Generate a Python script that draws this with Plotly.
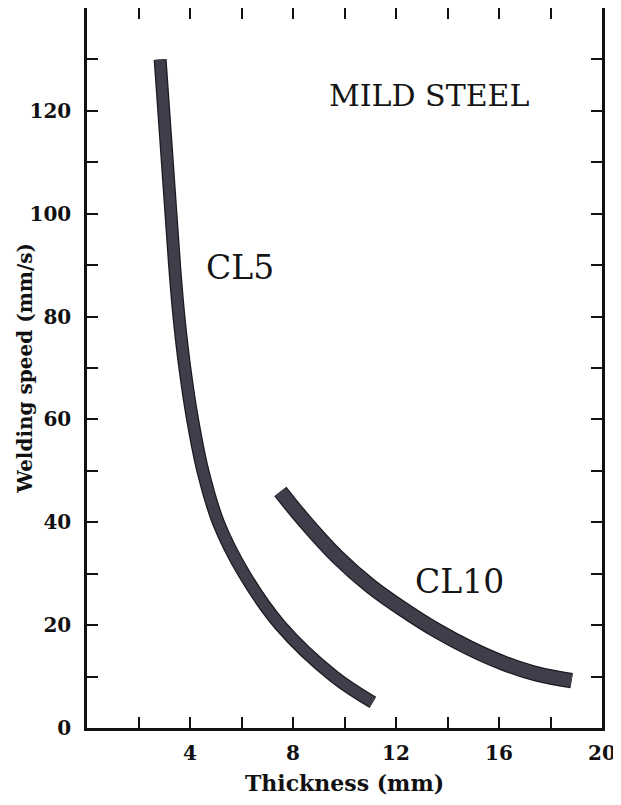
import plotly.graph_objects as go

# CL5 curve (centre line of the band), thickness mm vs welding speed mm/s
cl5_thickness = [2.84, 2.98, 3.12, 3.26, 3.4, 3.57, 3.8, 4.1, 4.5, 5.1, 6.1, 7.5, 9.6, 11.1]
cl5_speed = [130, 120, 110, 100, 90, 80, 70, 60, 50, 40, 30, 20, 10, 5]

# CL10 curve
cl10_thickness = [7.51, 8.42, 9.72, 11.01, 12.30, 13.60, 14.89, 16.19, 17.48, 18.82]
cl10_speed = [46.0, 40.4, 33.3, 27.6, 23.0, 18.9, 15.45, 12.6, 10.5, 9.2]

x_tick_vals = [2, 4, 6, 8, 10, 12, 14, 16, 18, 20]
x_tick_text = ["", "4", "", "8", "", "12", "", "16", "", "20"]
y_tick_vals = [0, 10, 20, 30, 40, 50, 60, 70, 80, 90, 100, 110, 120, 130]
y_tick_text = ["0", "", "20", "", "40", "", "60", "", "80", "", "100", "", "120", ""]

band_edge = "#1b1a20"
band_fill = "#403e4b"

fig = go.Figure()
for xs, ys, w in [(cl5_thickness, cl5_speed, 11), (cl10_thickness, cl10_speed, 13.5)]:
    fig.add_trace(go.Scatter(x=xs, y=ys, mode="lines",
                             line=dict(color=band_edge, width=w + 2, shape="spline"),
                             hoverinfo="skip", showlegend=False))
    fig.add_trace(go.Scatter(x=xs, y=ys, mode="lines",
                             line=dict(color=band_fill, width=w - 0.5, shape="spline"),
                             hoverinfo="skip", showlegend=False))

ann_font = dict(family="DejaVu Serif", size=30, color="#151515")
fig.add_annotation(x=13.3, y=123, text="MILD STEEL", showarrow=False, font=ann_font)
fig.add_annotation(x=5.96, y=89.5, text="CL5", showarrow=False,
                   font=dict(family="DejaVu Serif", size=33, color="#151515"))
fig.add_annotation(x=14.47, y=28.4, text="CL10", showarrow=False,
                   font=dict(family="DejaVu Serif", size=33, color="#151515"))

tick_font = dict(family="DejaVu Serif", size=20, color="#111111", weight="bold")
title_font = dict(family="DejaVu Serif", size=20, color="#111111", weight="bold")

fig.add_annotation(xref="paper", yref="paper", x=-0.121, y=0.5, xanchor="center",
                   yanchor="middle", text="Welding speed (mm/s)", textangle=-90,
                   showarrow=False, font=title_font)

fig.update_xaxes(range=[0, 20], tickvals=x_tick_vals, ticktext=x_tick_text,
                 ticks="inside", ticklen=11, tickwidth=2, tickcolor="#111111",
                 showline=True, linecolor="#111111", linewidth=2.5, mirror="ticks",
                 showgrid=False, zeroline=False, tickfont=tick_font,
                 ticklabelstandoff=5,
                 title=dict(text="Thickness (mm)", standoff=12,
                            font=dict(family="DejaVu Serif", size=22, color="#111111",
                                      weight="bold")))
fig.update_yaxes(range=[0, 140], tickvals=y_tick_vals, ticktext=y_tick_text,
                 ticks="inside", ticklen=11, tickwidth=2, tickcolor="#111111",
                 showline=True, linecolor="#111111", linewidth=2.5, mirror="ticks",
                 showgrid=False, zeroline=False, tickfont=tick_font,
                 ticklabelstandoff=9)

fig.update_layout(width=613, height=797,
                  margin=dict(l=79, r=19, t=0, b=77, autoexpand=False),
                  paper_bgcolor="white", plot_bgcolor="white")

fig.write_html("out.html")
